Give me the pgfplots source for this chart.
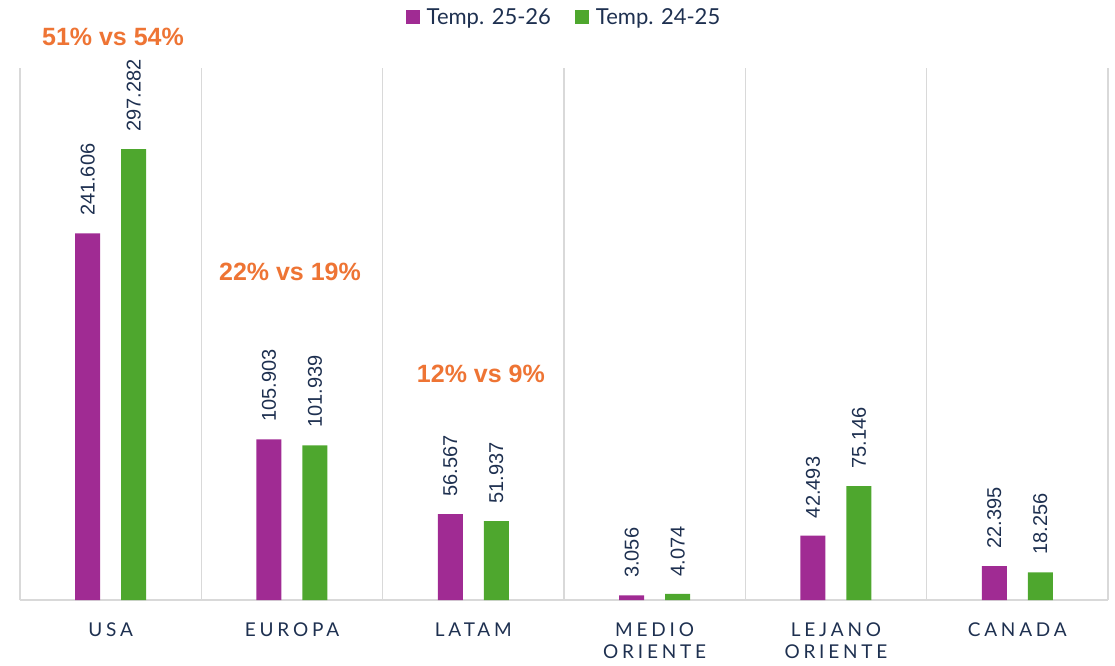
\documentclass[border=0pt]{standalone}
\usepackage{pgfplots}
\pgfplotsset{compat=1.18}
\usepackage{fontspec}
\setmainfont{Liberation Sans}
\newfontfamily\catfont[LetterSpace=20]{Lato}
\newfontfamily\legfont{Lato}
\definecolor{cpurple}{HTML}{A02B93}
\definecolor{cgreen}{HTML}{4EA72E}
\definecolor{corange}{HTML}{EE7434}
\definecolor{ctext}{HTML}{1E3050}
\definecolor{cgrid}{HTML}{D9D9D9}
\begin{document}
\begin{tikzpicture}
\useasboundingbox (0,0) rectangle (1115pt,665pt);
\begin{axis}[
  at={(20pt,65pt)}, anchor=south west,
  scale only axis, width=1088pt, height=532pt,
  xmin=-0.5, xmax=5.5, ymin=0, ymax=350700,
  clip=false,
  axis x line=bottom, axis y line=none,
  axis line style={cgrid, line width=1.5pt, -},
  xtick={0,1,2,3,4,5},
  xticklabels={USA,EUROPA,LATAM,{MEDIO\\ORIENTE},{LEJANO\\ORIENTE},CANADA},
  xticklabel style={font=\catfont\fontsize{19}{22}\selectfont, text=ctext, align=center, anchor=north, yshift=-19pt},
  major tick length=0pt,
  minor xtick={-0.5,0.5,1.5,2.5,3.5,4.5,5.5},
  minor tick length=0pt,
  xminorgrids=true,
  minor grid style={cgrid, line width=1.5pt},
  ytick=\empty,
  ybar, bar width=25pt,
  nodes near coords,
  nodes near coords style={font=\fontsize{20}{24}\selectfont, text=ctext, rotate=90, anchor=west, xshift=14pt,
    /pgf/number format/.cd, fixed, precision=0, 1000 sep={.}, assume math mode=true},
  legend style={at={(axis description cs:0.5,1.096)}, anchor=center, draw=none, fill=none,
    font=\legfont\fontsize{22}{26}\selectfont, text=ctext, legend columns=2,
    /tikz/every even column/.append style={column sep=22pt}},
  legend image code/.code={\fill[#1] (0pt,-7pt) rectangle (14pt,7pt);},
]
\addplot[fill=cpurple, draw=none, bar shift=-23pt] coordinates {(0,241606) (1,105903) (2,56567) (3,3056) (4,42493) (5,22395)};
\addplot[fill=cgreen, draw=none, bar shift=23pt] coordinates {(0,297282) (1,101939) (2,51937) (3,4074) (4,75146) (5,18256)};
\legend{\hspace{5pt}Temp. 25-26, \hspace{5pt}Temp. 24-25}
\node[font=\bfseries\fontsize{25}{30}\selectfont, text=corange] at (axis cs:0.013,371150) {51\% vs 54\%};
\node[font=\bfseries\fontsize{25}{30}\selectfont, text=corange] at (axis cs:0.989,216230) {22\% vs 19\%};
\node[font=\bfseries\fontsize{25}{30}\selectfont, text=corange] at (axis cs:2.042,149000) {12\% vs 9\%};
\end{axis}
\end{tikzpicture}
\end{document}
